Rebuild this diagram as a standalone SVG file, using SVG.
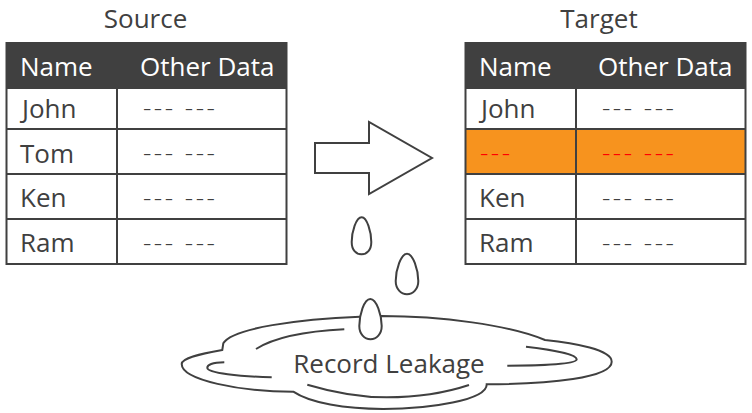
<svg xmlns="http://www.w3.org/2000/svg" width="752" height="413" viewBox="0 0 752 413">
<style>
text{font-family:"Open Sans","Noto Sans","Liberation Sans",sans-serif;font-size:26px;fill:#404040}
.h{fill:#fff}
.d{font-weight:300;letter-spacing:2.5px}
.r{fill:#f00}
.l{fill:none;stroke:#404040;stroke-width:2}
.c{fill:#fff;stroke:#404040;stroke-width:2;stroke-linejoin:miter}
</style>
<rect width="752" height="413" fill="#fff"/>
<g id="source">
<text x="145.5" y="28" text-anchor="middle">Source</text>
<rect x="6.5" y="42" width="280" height="47" fill="#404040"/>
<path class="l" d="M6.5 42V264H286.500V42M6.500 129H286.500M6.500 174H286.500M6.500 219H286.500M117 89V264"/>
<text class="h" x="20" y="76">Name</text><text class="h" x="140" y="76">Other Data</text>
<text x="22" y="118">John</text><text class="d" x="143" y="117">--- ---</text>
<text x="20" y="163">Tom</text><text class="d" x="143" y="162">--- ---</text>
<text x="20" y="207">Ken</text><text class="d" x="143" y="207">--- ---</text>
<text x="20" y="252">Ram</text><text class="d" x="143" y="252">--- ---</text>
</g>
<g id="target">
<text x="599" y="28" text-anchor="middle">Target</text>
<rect x="465.5" y="42" width="280" height="47" fill="#404040"/>
<rect x="466" y="129" width="279" height="45" fill="#f7931e"/>
<path class="l" d="M465.500 42V264H745.500V42M465.500 129H745.500M465.500 174H745.500M465.500 219H745.500M576 89V264"/>
<text class="h" x="479" y="76">Name</text><text class="h" x="598" y="76">Other Data</text>
<text x="481" y="118">John</text><text class="d" x="602" y="117">--- ---</text>
<text class="d r" x="480" y="162">---</text><text class="d r" x="602" y="162">--- ---</text>
<text x="479" y="207">Ken</text><text class="d" x="602" y="207">--- ---</text>
<text x="479" y="252">Ram</text><text class="d" x="602" y="252">--- ---</text>
</g>
<g id="arrow"><polygon class="c" points="315,143 369,143 369,122 432,158 369,194 369,173 315,173"/></g>
<g id="puddle">
<path class="c" d="M360 316.700C300 319 232 328 223.300 343.300L222.300 350C200 354 181.700 358 181.700 364C181.700 380 240 391.700 293.300 391.700C310 403 345 409 383.300 409C430 409 487 400 486.700 384.300C550 384 611.700 378 611.700 361.700C611.700 350 575 343 545 340C510 325 440 316 381.700 316Z"/>
<path class="l" d="M256 349C275 337 310 331 344.300 329.300M224.300 362.300C212 362.500 207.300 365 207.300 367.700C207.300 373 240 376.500 271.700 377.300M526 346.700C555 350 576.700 355 576.700 359.300C576.700 364 545 365.700 507.300 365.700M307.300 384.700C335 393 362 397.300 386.700 397.300C415 397.300 445 393 469 385"/>
<text x="389" y="373" text-anchor="middle">Record Leakage</text>
</g>
<g id="drops">
<path id="drop1" class="c" d="M361.700 217.300C367 217.300 371.300 232 371.300 242C371.300 250 367 254.300 361.500 254.300C356 254.300 351.700 250 351.700 242C351.700 232 356 217.300 361.700 217.300Z"/>
<path id="drop2" class="c" d="M407 253.700C413 253.700 418.300 270 418.300 281C418.300 289 413 294.300 407 294.300C401 294.300 395.700 289 395.700 281C395.700 270 401 253.700 407 253.700Z"/>
<path id="drop3" class="c" d="M370.300 299C376.500 299 381.700 315 381.700 326C381.700 334 376.500 339.300 370.500 339.300C364.500 339.300 359.300 334 359.300 326C359.300 315 364 299 370.300 299Z"/>
</g>
</svg>
